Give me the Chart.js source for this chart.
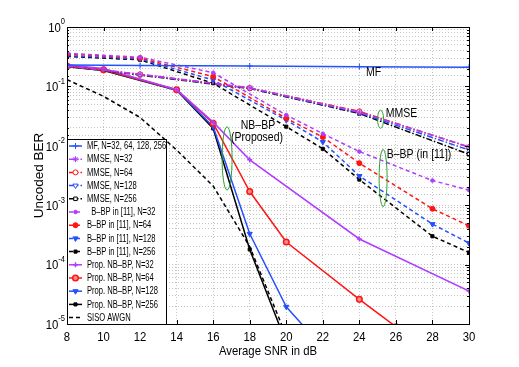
<!DOCTYPE html>
<html>
<head>
<meta charset="utf-8">
<script src="https://cdn.jsdelivr.net/npm/chart.js@4.4.0/dist/chart.umd.min.js"></script>
<style>
  html, body { margin: 0; padding: 0; background: #fff; }
</style>
</head>
<body>
<canvas id="ber" width="519" height="367"></canvas>
<script>
const FONT = '"Liberation Sans", Arial, sans-serif';
const SQUEEZE = 0.84; // figure text is horizontally narrow

// axis ticks
const snrTicks = [8, 10, 12, 14, 16, 18, 20, 22, 24, 26, 28, 30];
const berDecades = [1, 1e-1, 1e-2, 1e-3, 1e-4, 1e-5];
const decadeExp = ['0', '-1', '-2', '-3', '-4', '-5'];

// MF
const snrMF = [8, 12, 18, 24, 30];
const berMF = [0.23, 0.225, 0.22, 0.215, 0.21];

// MMSE
const snrMMSE = [8, 12, 18, 24, 30];
const mmse32 = [0.22, 0.16, 0.095, 0.037, 0.0096];
const mmse64 = [0.22, 0.16, 0.094, 0.038, 0.0095];
const mmse128 = [0.22, 0.158, 0.093, 0.036, 0.0085];
const mmse256 = [0.22, 0.155, 0.092, 0.035, 0.0072];

// B-BP in [11]
const snrBBP = [8, 12, 16, 20, 22, 24, 28, 30];
const bbp32 = [0.36, 0.31, 0.17, 0.033, 0.016, 0.0080, 0.0026, 0.0018];
const bbp64 = [0.35, 0.30, 0.146, 0.029, 0.014, 0.0051, 0.00087, 0.00045];
const bbp128 = [0.33, 0.29, 0.128, 0.027, 0.0116, 0.0031, 0.00048, 0.00023];
const bbp256 = [0.32, 0.28, 0.113, 0.021, 0.0089, 0.0027, 0.0003, 0.00016];

// proposed NB-BP
const snrProp32 = [8, 10, 14, 16, 18, 24, 30];
const prop32 = [0.23, 0.2, 0.088, 0.025, 0.0058, 0.00027, 0.000036];
const snrProp64 = [8, 10, 14, 16, 18, 20, 24, 26];
const prop64 = [0.22, 0.19, 0.088, 0.024, 0.0017, 0.00024, 0.000026, 0.000009];
const snrProp128 = [8, 10, 14, 16, 18, 20, 22];
const prop128 = [0.22, 0.19, 0.087, 0.021, 0.00033, 0.0000195, 0.000004];
const snrProp256 = [8, 10, 14, 16, 18, 20];
const prop256 = [0.215, 0.185, 0.086, 0.0196, 0.00018, 0.0000048];

// SISO AWGN bound
const snrAWGN = [8, 10, 12, 14, 16, 18, 20];
const awgn = [0.13, 0.068, 0.03, 0.0085, 0.0021, 0.0002, 0.0000063];

const PURPLE = '#b03cff', RED = '#ff1414', BLUE = '#2450ff', BLACK = '#000000';
const DASH = [4, 3], DASHDOT = [6, 2, 1.5, 2];

function pts(xs, ys) {
  return xs.map((x, i) => ({ x: x, y: ys[i] }));
}

function series(label, xs, ys, color, dash, pointStyle, opts) {
  return Object.assign({
    label: label,
    data: pts(xs, ys),
    borderColor: color,
    backgroundColor: color,
    borderWidth: 1.5,
    borderDash: dash,
    pointStyle: pointStyle,
    pointRadius: 2.5,
    pointBorderWidth: 1,
    pointBorderColor: color,
    pointBackgroundColor: color,
    pointRotation: 0,
    tension: 0,
  }, opts || {});
}

const datasets = [
  series('MF, N=32, 64, 128, 256', snrMF, berMF, BLUE, [], 'cross', { pointRadius: 3 }),
  series('MMSE, N=32', snrMMSE, mmse32, PURPLE, DASHDOT, 'star', { pointRadius: 3 }),
  series('MMSE, N=64', snrMMSE, mmse64, RED, DASHDOT, 'circle', { pointBackgroundColor: '#fff' }),
  series('MMSE, N=128', snrMMSE, mmse128, BLUE, DASHDOT, 'triangle', { pointBackgroundColor: '#fff', pointRotation: 180, pointRadius: 3 }),
  series('MMSE, N=256', snrMMSE, mmse256, BLACK, DASHDOT, 'rect', { pointBackgroundColor: '#fff' }),
  series('  B\u2013BP in [11], N=32', snrBBP, bbp32, PURPLE, DASH, 'circle', { pointRadius: 1.8 }),
  series('B\u2013BP in [11], N=64', snrBBP, bbp64, RED, DASH, 'circle'),
  series('B\u2013BP in [11], N=128', snrBBP, bbp128, BLUE, DASH, 'triangle', { pointRotation: 180, pointRadius: 3 }),
  series('B\u2013BP in [11], N=256', snrBBP, bbp256, BLACK, DASH, 'rect', { pointRadius: 2.2 }),
  series('Prop. NB\u2013BP, N=32', snrProp32, prop32, PURPLE, [], 'cross', { pointBorderWidth: 1.5 }),
  series('Prop. NB\u2013BP, N=64', snrProp64, prop64, RED, [], 'circle', { pointRadius: 2.8, pointBorderWidth: 1.5, pointBackgroundColor: '#ff8a8a' }),
  series('Prop. NB\u2013BP, N=128', snrProp128, prop128, BLUE, [], 'triangle', { pointRotation: 180, pointRadius: 3 }),
  series('Prop. NB\u2013BP, N=256', snrProp256, prop256, BLACK, [], 'rect', { pointRadius: 2.2 }),
  series('SISO AWGN', snrAWGN, awgn, BLACK, DASH, 'circle', { pointRadius: 0 }),
];

// text notes and green ellipses, placed in data coordinates
const notes = [
  { text: 'MF', x: 24.37, y: Math.pow(10, -0.77), align: 'left' },
  { text: 'MMSE', x: 25.44, y: Math.pow(10, -1.465), align: 'left' },
  { text: 'NB\u2013BP', x: 18.45, y: Math.pow(10, -1.665), align: 'center' },
  { text: '(Proposed)', x: 18.4, y: Math.pow(10, -1.86), align: 'center' },
  { text: 'B\u2013BP (in [11])', x: 25.5, y: Math.pow(10, -2.14), align: 'left' },
];
const rings = [
  { x: 16.76, top: Math.pow(10, -1.68), bottom: Math.pow(10, -2.745), rx: 5 },
  { x: 25.16, top: Math.pow(10, -1.40), bottom: Math.pow(10, -1.705), rx: 3 },
  { x: 25.3, top: Math.pow(10, -2.06), bottom: Math.pow(10, -3.025), rx: 4 },
];

// narrow text: draws with a horizontal squeeze, baseline middle
function narrowText(ctx, text, x, y, size, align, squeeze) {
  const sq = squeeze || SQUEEZE;
  ctx.font = size + 'px ' + FONT;
  const w = ctx.measureText(text).width * sq;
  let x0 = x;
  if (align === 'center') x0 = x - w / 2;
  if (align === 'right') x0 = x - w;
  ctx.save();
  ctx.translate(x0, y);
  ctx.scale(sq, 1);
  ctx.textAlign = 'left';
  ctx.textBaseline = 'middle';
  ctx.fillText(text, 0, 0);
  ctx.restore();
  return w;
}

function textWidth(ctx, text, size) {
  ctx.font = size + 'px ' + FONT;
  return ctx.measureText(text).width * SQUEEZE;
}

const decorations = {
  id: 'decorations',
  afterDraw(chart) {
    const { ctx, chartArea: a, scales: { x, y } } = chart;
    ctx.save();

    // frame
    ctx.strokeStyle = '#000';
    ctx.lineWidth = 1;
    ctx.setLineDash([]);
    ctx.strokeRect(a.left + 0.5, a.top + 0.5, a.right - a.left, a.bottom - a.top);

    // inward tick marks
    ctx.beginPath();
    snrTicks.forEach(v => {
      const px = Math.round(x.getPixelForValue(v)) + 0.5;
      ctx.moveTo(px, a.bottom); ctx.lineTo(px, a.bottom - 4);
      ctx.moveTo(px, a.top); ctx.lineTo(px, a.top + 4);
    });
    y.ticks.forEach(t => {
      const py = Math.round(y.getPixelForValue(t.value)) + 0.5;
      const len = berDecades.indexOf(t.value) >= 0 ? 4 : 2;
      ctx.moveTo(a.left, py); ctx.lineTo(a.left + len, py);
      ctx.moveTo(a.right, py); ctx.lineTo(a.right - len, py);
    });
    ctx.stroke();

    ctx.fillStyle = '#000';

    // x tick labels
    snrTicks.forEach(v => {
      narrowText(ctx, String(v), x.getPixelForValue(v), a.bottom + 13, 13.5, 'center');
    });

    // y tick labels 10^k
    berDecades.forEach((v, i) => {
      const py = y.getPixelForValue(v);
      const we = textWidth(ctx, decadeExp[i], 9);
      const wb = textWidth(ctx, '10', 13.5);
      const right = a.left - 2;
      narrowText(ctx, '10', right - we - wb, py + 1, 13.5, 'left');
      narrowText(ctx, decadeExp[i], right - we, py - 5, 9, 'left');
    });

    // axis titles
    narrowText(ctx, 'Average SNR in dB', (a.left + a.right) / 2, a.bottom + 27, 13.5, 'center');
    ctx.save();
    ctx.translate(a.left - 28, (a.top + a.bottom) / 2);
    ctx.rotate(-Math.PI / 2);
    ctx.font = '13.5px ' + FONT;
    ctx.textAlign = 'center';
    ctx.textBaseline = 'middle';
    ctx.fillText('Uncoded BER', 0, 0);
    ctx.restore();

    // notes
    notes.forEach(n => {
      narrowText(ctx, n.text, x.getPixelForValue(n.x), y.getPixelForValue(n.y), 12.5, n.align);
    });
    ctx.strokeStyle = '#2ca02c';
    ctx.lineWidth = 1;
    rings.forEach(r => {
      const cx = x.getPixelForValue(r.x);
      const t = y.getPixelForValue(r.top), b = y.getPixelForValue(r.bottom);
      ctx.beginPath();
      ctx.ellipse(cx, (t + b) / 2, r.rx, (b - t) / 2, 0, 0, Math.PI * 2);
      ctx.stroke();
    });

    // legend box
    const lx = a.left, ly = a.bottom - 185, lw = 99;
    const rowH = 13.2, first = ly + 7;
    ctx.fillStyle = '#fff';
    ctx.fillRect(lx, ly, lw, a.bottom - ly);
    ctx.strokeStyle = '#000';
    ctx.lineWidth = 1;
    ctx.strokeRect(lx + 0.5, ly + 0.5, lw, a.bottom - ly);
    chart.data.datasets.forEach((ds, i) => {
      const ry = first + i * rowH;
      ctx.strokeStyle = ds.borderColor;
      ctx.lineWidth = ds.borderWidth;
      ctx.setLineDash(ds.borderDash);
      ctx.beginPath();
      ctx.moveTo(lx + 2, ry);
      ctx.lineTo(lx + 15, ry);
      ctx.stroke();
      ctx.setLineDash([]);
      if (ds.pointRadius > 0) {
        ctx.fillStyle = ds.pointBackgroundColor;
        ctx.strokeStyle = ds.pointBorderColor;
        ctx.lineWidth = ds.pointBorderWidth;
        Chart.helpers.drawPoint(ctx, {
          pointStyle: ds.pointStyle,
          radius: ds.pointRadius,
          rotation: ds.pointRotation,
          borderWidth: ds.pointBorderWidth,
        }, lx + 8.5, ry);
      }
      ctx.fillStyle = '#000';
      narrowText(ctx, ds.label, lx + 20, ry + 0.5, 10, 'left', 0.76);
    });

    ctx.restore();
  }
};

new Chart(document.getElementById('ber'), {
  type: 'line',
  data: { datasets: datasets },
  options: {
    responsive: false,
    animation: false,
    devicePixelRatio: 1,
    layout: { padding: { top: 27, right: 50, left: 0, bottom: 0 } },
    plugins: { legend: { display: false }, tooltip: { enabled: false } },
    scales: {
      x: {
        type: 'linear',
        min: 8,
        max: 30,
        afterBuildTicks: s => { s.ticks = snrTicks.map(v => ({ value: v })); },
        ticks: { display: false },
        grid: { color: '#c4c4c4', drawTicks: false },
        border: { display: false, dash: [1, 2] },
        afterFit: s => { s.height = 43; },
      },
      y: {
        type: 'logarithmic',
        min: 1e-5,
        max: 1,
        ticks: { display: false },
        grid: { color: '#c4c4c4', drawTicks: false },
        border: { display: false, dash: [1, 2] },
        afterFit: s => { s.width = 67; },
      },
    },
  },
  plugins: [decorations],
});
</script>
</body>
</html>
